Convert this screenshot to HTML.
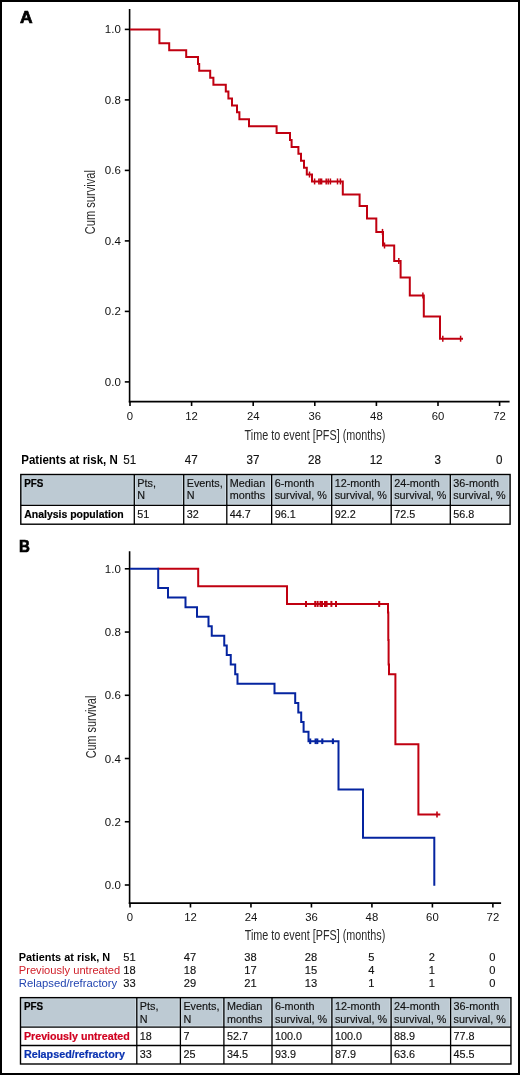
<!DOCTYPE html>
<html><head><meta charset="utf-8"><title>PFS Kaplan-Meier</title>
<style>
html,body{margin:0;padding:0;background:#fff;}
body{width:520px;height:1075px;overflow:hidden;position:relative;}
.frame{position:absolute;left:0;top:0;width:520px;height:1075px;box-sizing:border-box;border:2px solid #000;}
svg{position:absolute;left:0;top:0;will-change:transform;font-family:"Liberation Sans", sans-serif;}
</style></head><body>
<svg width="520" height="1075" viewBox="0 0 520 1075">
<text x="20.1" y="23" font-size="16.5" font-weight="bold" fill="#000" text-anchor="start" textLength="12.6" lengthAdjust="spacingAndGlyphs" stroke="#000" stroke-width="0.7">A</text>
<line x1="129.6" y1="9" x2="129.6" y2="402.4" stroke="#000" stroke-width="1.6"/>
<line x1="128.79999999999998" y1="401.6" x2="509.6" y2="401.6" stroke="#000" stroke-width="1.6"/>
<line x1="124.8" y1="381.9" x2="129.6" y2="381.9" stroke="#000" stroke-width="1.6"/>
<text x="120.8" y="385.9" font-size="11.8" font-weight="normal" fill="#111" text-anchor="end" textLength="16.0" lengthAdjust="spacingAndGlyphs">0.0</text>
<line x1="124.8" y1="311.4" x2="129.6" y2="311.4" stroke="#000" stroke-width="1.6"/>
<text x="120.8" y="315.4" font-size="11.8" font-weight="normal" fill="#111" text-anchor="end" textLength="16.0" lengthAdjust="spacingAndGlyphs">0.2</text>
<line x1="124.8" y1="240.89999999999998" x2="129.6" y2="240.89999999999998" stroke="#000" stroke-width="1.6"/>
<text x="120.8" y="244.9" font-size="11.8" font-weight="normal" fill="#111" text-anchor="end" textLength="16.0" lengthAdjust="spacingAndGlyphs">0.4</text>
<line x1="124.8" y1="170.39999999999998" x2="129.6" y2="170.39999999999998" stroke="#000" stroke-width="1.6"/>
<text x="120.8" y="174.4" font-size="11.8" font-weight="normal" fill="#111" text-anchor="end" textLength="16.0" lengthAdjust="spacingAndGlyphs">0.6</text>
<line x1="124.8" y1="99.89999999999998" x2="129.6" y2="99.89999999999998" stroke="#000" stroke-width="1.6"/>
<text x="120.8" y="103.9" font-size="11.8" font-weight="normal" fill="#111" text-anchor="end" textLength="16.0" lengthAdjust="spacingAndGlyphs">0.8</text>
<line x1="124.8" y1="29.399999999999977" x2="129.6" y2="29.399999999999977" stroke="#000" stroke-width="1.6"/>
<text x="120.8" y="33.4" font-size="11.8" font-weight="normal" fill="#111" text-anchor="end" textLength="16.0" lengthAdjust="spacingAndGlyphs">1.0</text>
<line x1="130.0" y1="401.6" x2="130.0" y2="406" stroke="#000" stroke-width="1.6"/>
<text x="130.0" y="419.6" font-size="11.8" font-weight="normal" fill="#111" text-anchor="middle" textLength="6.3" lengthAdjust="spacingAndGlyphs">0</text>
<line x1="191.5996" y1="401.6" x2="191.5996" y2="406" stroke="#000" stroke-width="1.6"/>
<text x="191.6" y="419.6" font-size="11.8" font-weight="normal" fill="#111" text-anchor="middle" textLength="12.6" lengthAdjust="spacingAndGlyphs">12</text>
<line x1="253.19920000000002" y1="401.6" x2="253.19920000000002" y2="406" stroke="#000" stroke-width="1.6"/>
<text x="253.2" y="419.6" font-size="11.8" font-weight="normal" fill="#111" text-anchor="middle" textLength="12.6" lengthAdjust="spacingAndGlyphs">24</text>
<line x1="314.7988" y1="401.6" x2="314.7988" y2="406" stroke="#000" stroke-width="1.6"/>
<text x="314.8" y="419.6" font-size="11.8" font-weight="normal" fill="#111" text-anchor="middle" textLength="12.6" lengthAdjust="spacingAndGlyphs">36</text>
<line x1="376.39840000000004" y1="401.6" x2="376.39840000000004" y2="406" stroke="#000" stroke-width="1.6"/>
<text x="376.4" y="419.6" font-size="11.8" font-weight="normal" fill="#111" text-anchor="middle" textLength="12.6" lengthAdjust="spacingAndGlyphs">48</text>
<line x1="437.998" y1="401.6" x2="437.998" y2="406" stroke="#000" stroke-width="1.6"/>
<text x="438.0" y="419.6" font-size="11.8" font-weight="normal" fill="#111" text-anchor="middle" textLength="12.6" lengthAdjust="spacingAndGlyphs">60</text>
<line x1="499.5976" y1="401.6" x2="499.5976" y2="406" stroke="#000" stroke-width="1.6"/>
<text x="499.6" y="419.6" font-size="11.8" font-weight="normal" fill="#111" text-anchor="middle" textLength="12.6" lengthAdjust="spacingAndGlyphs">72</text>
<text x="0" y="0" font-size="14" fill="#2a2a2a" textLength="64.3" lengthAdjust="spacingAndGlyphs" transform="translate(95,234.3) rotate(-90)">Cum survival</text>
<text x="244.6" y="439.8" font-size="14" font-weight="normal" fill="#2a2a2a" text-anchor="start" textLength="140.7" lengthAdjust="spacingAndGlyphs">Time to event [PFS] (months)</text>
<path d="M130,29.4 H159.4 V43.22 H169.2 V50.14 H186.2 V57.05 H198 V63.96 H199.2 V70.87 H210.2 V77.78 H213.4 V84.7 H225.8 V91.61 H228.4 V98.52 H232 V105.43 H237 V112.34 H239.4 V119.26 H249 V126.17 H276.6 V133.08 H290 V139.99 H291.6 V146.9 H298.4 V153.82 H301 V160.73 H304 V167.64 H306.8 V174.55 H312 V181.46 H342.8 V194.5 H359.6 V206 H367 V218.6 H376.3 V231.9 H383 V245.5 H394.2 V261 H400.6 V277.5 H409.8 V295.4 H423.8 V316.5 H440 V338.7 H463" fill="none" stroke="#c00010" stroke-width="2.0" stroke-linejoin="miter" stroke-linecap="butt"/>
<line x1="309.5" y1="171.55" x2="309.5" y2="177.55" stroke="#c00010" stroke-width="1.5"/>
<line x1="314.6" y1="178.46" x2="314.6" y2="184.46" stroke="#c00010" stroke-width="1.5"/>
<line x1="318.9" y1="178.46" x2="318.9" y2="184.46" stroke="#c00010" stroke-width="1.5"/>
<line x1="320.3" y1="178.46" x2="320.3" y2="184.46" stroke="#c00010" stroke-width="1.5"/>
<line x1="321.6" y1="178.46" x2="321.6" y2="184.46" stroke="#c00010" stroke-width="1.5"/>
<line x1="326.2" y1="178.46" x2="326.2" y2="184.46" stroke="#c00010" stroke-width="1.5"/>
<line x1="328.2" y1="178.46" x2="328.2" y2="184.46" stroke="#c00010" stroke-width="1.5"/>
<line x1="330.4" y1="178.46" x2="330.4" y2="184.46" stroke="#c00010" stroke-width="1.5"/>
<line x1="337.5" y1="178.46" x2="337.5" y2="184.46" stroke="#c00010" stroke-width="1.5"/>
<line x1="340.4" y1="178.46" x2="340.4" y2="184.46" stroke="#c00010" stroke-width="1.5"/>
<line x1="382.5" y1="228.9" x2="382.5" y2="234.9" stroke="#c00010" stroke-width="1.5"/>
<line x1="384.5" y1="242.5" x2="384.5" y2="248.5" stroke="#c00010" stroke-width="1.5"/>
<line x1="398.8" y1="258.0" x2="398.8" y2="264.0" stroke="#c00010" stroke-width="1.5"/>
<line x1="422.9" y1="292.4" x2="422.9" y2="298.4" stroke="#c00010" stroke-width="1.5"/>
<line x1="442.8" y1="335.7" x2="442.8" y2="341.7" stroke="#c00010" stroke-width="1.5"/>
<line x1="460.6" y1="335.7" x2="460.6" y2="341.7" stroke="#c00010" stroke-width="1.5"/>
<text x="21.3" y="463.6" font-size="12" font-weight="bold" fill="#000" text-anchor="start" textLength="96.5" lengthAdjust="spacingAndGlyphs">Patients at risk, N</text>
<text x="129.7" y="463.6" font-size="12" font-weight="normal" fill="#111" text-anchor="middle" textLength="12.94" lengthAdjust="spacingAndGlyphs" stroke="#111" stroke-width="0.15">51</text>
<text x="191.3" y="463.6" font-size="12" font-weight="normal" fill="#111" text-anchor="middle" textLength="12.94" lengthAdjust="spacingAndGlyphs" stroke="#111" stroke-width="0.15">47</text>
<text x="252.9" y="463.6" font-size="12" font-weight="normal" fill="#111" text-anchor="middle" textLength="12.94" lengthAdjust="spacingAndGlyphs" stroke="#111" stroke-width="0.15">37</text>
<text x="314.5" y="463.6" font-size="12" font-weight="normal" fill="#111" text-anchor="middle" textLength="12.94" lengthAdjust="spacingAndGlyphs" stroke="#111" stroke-width="0.15">28</text>
<text x="376.1" y="463.6" font-size="12" font-weight="normal" fill="#111" text-anchor="middle" textLength="12.94" lengthAdjust="spacingAndGlyphs" stroke="#111" stroke-width="0.15">12</text>
<text x="437.7" y="463.6" font-size="12" font-weight="normal" fill="#111" text-anchor="middle" textLength="6.47" lengthAdjust="spacingAndGlyphs" stroke="#111" stroke-width="0.15">3</text>
<text x="499.3" y="463.6" font-size="12" font-weight="normal" fill="#111" text-anchor="middle" textLength="6.47" lengthAdjust="spacingAndGlyphs" stroke="#111" stroke-width="0.15">0</text>
<rect x="20.8" y="474.5" width="489.3" height="30.94999999999999" fill="#bdcad3"/>
<rect x="21.95" y="475.65" width="111.20000000000002" height="28.649999999999988" fill="none" stroke="#d2dde4" stroke-width="1"/>
<rect x="135.45000000000002" y="475.65" width="47.09999999999998" height="28.649999999999988" fill="none" stroke="#d2dde4" stroke-width="1"/>
<rect x="184.85" y="475.65" width="40.800000000000026" height="28.649999999999988" fill="none" stroke="#d2dde4" stroke-width="1"/>
<rect x="227.95000000000002" y="475.65" width="42.54999999999997" height="28.649999999999988" fill="none" stroke="#d2dde4" stroke-width="1"/>
<rect x="272.79999999999995" y="475.65" width="57.750000000000014" height="28.649999999999988" fill="none" stroke="#d2dde4" stroke-width="1"/>
<rect x="332.84999999999997" y="475.65" width="57.2" height="28.649999999999988" fill="none" stroke="#d2dde4" stroke-width="1"/>
<rect x="392.34999999999997" y="475.65" width="56.800000000000026" height="28.649999999999988" fill="none" stroke="#d2dde4" stroke-width="1"/>
<rect x="451.45" y="475.65" width="57.500000000000014" height="28.649999999999988" fill="none" stroke="#d2dde4" stroke-width="1"/>
<rect x="20.8" y="474.5" width="489.3" height="49.700000000000045" fill="none" stroke="#000" stroke-width="1.4"/>
<line x1="134.3" y1="474.5" x2="134.3" y2="524.2" stroke="#000" stroke-width="1.3"/>
<line x1="183.7" y1="474.5" x2="183.7" y2="524.2" stroke="#000" stroke-width="1.3"/>
<line x1="226.8" y1="474.5" x2="226.8" y2="524.2" stroke="#000" stroke-width="1.3"/>
<line x1="271.65" y1="474.5" x2="271.65" y2="524.2" stroke="#000" stroke-width="1.3"/>
<line x1="331.7" y1="474.5" x2="331.7" y2="524.2" stroke="#000" stroke-width="1.3"/>
<line x1="391.2" y1="474.5" x2="391.2" y2="524.2" stroke="#000" stroke-width="1.3"/>
<line x1="450.3" y1="474.5" x2="450.3" y2="524.2" stroke="#000" stroke-width="1.3"/>
<line x1="20.8" y1="505.45" x2="510.1" y2="505.45" stroke="#000" stroke-width="1.3"/>
<text x="24.2" y="486.7" font-size="10.8" font-weight="bold" fill="#000" text-anchor="start" textLength="19.2" lengthAdjust="spacingAndGlyphs" stroke="#000" stroke-width="0.2">PFS</text>
<text x="137.3" y="486.7" font-size="10.8" font-weight="normal" fill="#111" text-anchor="start" stroke="#111" stroke-width="0.15">Pts,</text>
<text x="137.3" y="499.3" font-size="10.8" font-weight="normal" fill="#111" text-anchor="start" stroke="#111" stroke-width="0.15">N</text>
<text x="186.7" y="486.7" font-size="10.8" font-weight="normal" fill="#111" text-anchor="start" stroke="#111" stroke-width="0.15">Events,</text>
<text x="186.7" y="499.3" font-size="10.8" font-weight="normal" fill="#111" text-anchor="start" stroke="#111" stroke-width="0.15">N</text>
<text x="229.8" y="486.7" font-size="10.8" font-weight="normal" fill="#111" text-anchor="start" stroke="#111" stroke-width="0.15">Median</text>
<text x="229.8" y="499.3" font-size="10.8" font-weight="normal" fill="#111" text-anchor="start" stroke="#111" stroke-width="0.15">months</text>
<text x="274.65" y="486.7" font-size="10.8" font-weight="normal" fill="#111" text-anchor="start" stroke="#111" stroke-width="0.15">6-month</text>
<text x="274.65" y="499.3" font-size="10.8" font-weight="normal" fill="#111" text-anchor="start" stroke="#111" stroke-width="0.15">survival, %</text>
<text x="334.7" y="486.7" font-size="10.8" font-weight="normal" fill="#111" text-anchor="start" stroke="#111" stroke-width="0.15">12-month</text>
<text x="334.7" y="499.3" font-size="10.8" font-weight="normal" fill="#111" text-anchor="start" stroke="#111" stroke-width="0.15">survival, %</text>
<text x="394.2" y="486.7" font-size="10.8" font-weight="normal" fill="#111" text-anchor="start" stroke="#111" stroke-width="0.15">24-month</text>
<text x="394.2" y="499.3" font-size="10.8" font-weight="normal" fill="#111" text-anchor="start" stroke="#111" stroke-width="0.15">survival, %</text>
<text x="453.3" y="486.7" font-size="10.8" font-weight="normal" fill="#111" text-anchor="start" stroke="#111" stroke-width="0.15">36-month</text>
<text x="453.3" y="499.3" font-size="10.8" font-weight="normal" fill="#111" text-anchor="start" stroke="#111" stroke-width="0.15">survival, %</text>
<text x="24.2" y="517.7" font-size="10.8" font-weight="bold" fill="#000" text-anchor="start" textLength="99.5" lengthAdjust="spacingAndGlyphs" stroke="#000" stroke-width="0.2">Analysis population</text>
<text x="137.3" y="517.7" font-size="10.8" font-weight="normal" fill="#111" text-anchor="start" stroke="#111" stroke-width="0.15">51</text>
<text x="186.7" y="517.7" font-size="10.8" font-weight="normal" fill="#111" text-anchor="start" stroke="#111" stroke-width="0.15">32</text>
<text x="229.8" y="517.7" font-size="10.8" font-weight="normal" fill="#111" text-anchor="start" stroke="#111" stroke-width="0.15">44.7</text>
<text x="274.65" y="517.7" font-size="10.8" font-weight="normal" fill="#111" text-anchor="start" stroke="#111" stroke-width="0.15">96.1</text>
<text x="334.7" y="517.7" font-size="10.8" font-weight="normal" fill="#111" text-anchor="start" stroke="#111" stroke-width="0.15">92.2</text>
<text x="394.2" y="517.7" font-size="10.8" font-weight="normal" fill="#111" text-anchor="start" stroke="#111" stroke-width="0.15">72.5</text>
<text x="453.3" y="517.7" font-size="10.8" font-weight="normal" fill="#111" text-anchor="start" stroke="#111" stroke-width="0.15">56.8</text>
<text x="18.9" y="552.2" font-size="16.5" font-weight="bold" fill="#000" text-anchor="start" textLength="10.9" lengthAdjust="spacingAndGlyphs" stroke="#000" stroke-width="0.7">B</text>
<line x1="129.6" y1="551.2" x2="129.6" y2="903.9" stroke="#000" stroke-width="1.6"/>
<line x1="128.79999999999998" y1="903.1" x2="501.1" y2="903.1" stroke="#000" stroke-width="1.6"/>
<line x1="124.8" y1="885.0" x2="129.6" y2="885.0" stroke="#000" stroke-width="1.6"/>
<text x="120.8" y="889.0" font-size="11.8" font-weight="normal" fill="#111" text-anchor="end" textLength="16.0" lengthAdjust="spacingAndGlyphs">0.0</text>
<line x1="124.8" y1="821.76" x2="129.6" y2="821.76" stroke="#000" stroke-width="1.6"/>
<text x="120.8" y="825.76" font-size="11.8" font-weight="normal" fill="#111" text-anchor="end" textLength="16.0" lengthAdjust="spacingAndGlyphs">0.2</text>
<line x1="124.8" y1="758.52" x2="129.6" y2="758.52" stroke="#000" stroke-width="1.6"/>
<text x="120.8" y="762.52" font-size="11.8" font-weight="normal" fill="#111" text-anchor="end" textLength="16.0" lengthAdjust="spacingAndGlyphs">0.4</text>
<line x1="124.8" y1="695.28" x2="129.6" y2="695.28" stroke="#000" stroke-width="1.6"/>
<text x="120.8" y="699.28" font-size="11.8" font-weight="normal" fill="#111" text-anchor="end" textLength="16.0" lengthAdjust="spacingAndGlyphs">0.6</text>
<line x1="124.8" y1="632.04" x2="129.6" y2="632.04" stroke="#000" stroke-width="1.6"/>
<text x="120.8" y="636.04" font-size="11.8" font-weight="normal" fill="#111" text-anchor="end" textLength="16.0" lengthAdjust="spacingAndGlyphs">0.8</text>
<line x1="124.8" y1="568.8" x2="129.6" y2="568.8" stroke="#000" stroke-width="1.6"/>
<text x="120.8" y="572.8" font-size="11.8" font-weight="normal" fill="#111" text-anchor="end" textLength="16.0" lengthAdjust="spacingAndGlyphs">1.0</text>
<line x1="130.0" y1="903.1" x2="130.0" y2="907.5" stroke="#000" stroke-width="1.6"/>
<text x="130.0" y="920.5" font-size="11.8" font-weight="normal" fill="#111" text-anchor="middle" textLength="6.3" lengthAdjust="spacingAndGlyphs">0</text>
<line x1="190.48000000000002" y1="903.1" x2="190.48000000000002" y2="907.5" stroke="#000" stroke-width="1.6"/>
<text x="190.48" y="920.5" font-size="11.8" font-weight="normal" fill="#111" text-anchor="middle" textLength="12.6" lengthAdjust="spacingAndGlyphs">12</text>
<line x1="250.96" y1="903.1" x2="250.96" y2="907.5" stroke="#000" stroke-width="1.6"/>
<text x="250.96" y="920.5" font-size="11.8" font-weight="normal" fill="#111" text-anchor="middle" textLength="12.6" lengthAdjust="spacingAndGlyphs">24</text>
<line x1="311.44" y1="903.1" x2="311.44" y2="907.5" stroke="#000" stroke-width="1.6"/>
<text x="311.44" y="920.5" font-size="11.8" font-weight="normal" fill="#111" text-anchor="middle" textLength="12.6" lengthAdjust="spacingAndGlyphs">36</text>
<line x1="371.92" y1="903.1" x2="371.92" y2="907.5" stroke="#000" stroke-width="1.6"/>
<text x="371.92" y="920.5" font-size="11.8" font-weight="normal" fill="#111" text-anchor="middle" textLength="12.6" lengthAdjust="spacingAndGlyphs">48</text>
<line x1="432.4" y1="903.1" x2="432.4" y2="907.5" stroke="#000" stroke-width="1.6"/>
<text x="432.4" y="920.5" font-size="11.8" font-weight="normal" fill="#111" text-anchor="middle" textLength="12.6" lengthAdjust="spacingAndGlyphs">60</text>
<line x1="492.88" y1="903.1" x2="492.88" y2="907.5" stroke="#000" stroke-width="1.6"/>
<text x="492.88" y="920.5" font-size="11.8" font-weight="normal" fill="#111" text-anchor="middle" textLength="12.6" lengthAdjust="spacingAndGlyphs">72</text>
<text x="0" y="0" font-size="14" fill="#2a2a2a" textLength="62.6" lengthAdjust="spacingAndGlyphs" transform="translate(96,758.3) rotate(-90)">Cum survival</text>
<text x="244.7" y="940.3" font-size="14" font-weight="normal" fill="#2a2a2a" text-anchor="start" textLength="140.6" lengthAdjust="spacingAndGlyphs">Time to event [PFS] (months)</text>
<path d="M157.5,568.8 H198.2 V586.37 H287 V603.94 H388 V612.6 H388.3 V640 H388.6 V664.6 H389 V674.3 H395.4 V744.3 H418.4 V814.6 H440.3" fill="none" stroke="#c00010" stroke-width="2.0" stroke-linejoin="miter" stroke-linecap="butt"/>
<line x1="306" y1="600.94" x2="306" y2="606.94" stroke="#c00010" stroke-width="2.0"/>
<line x1="315.2" y1="600.94" x2="315.2" y2="606.94" stroke="#c00010" stroke-width="2.0"/>
<line x1="317.6" y1="600.94" x2="317.6" y2="606.94" stroke="#c00010" stroke-width="2.0"/>
<line x1="320.5" y1="600.94" x2="320.5" y2="606.94" stroke="#c00010" stroke-width="2.0"/>
<line x1="322.0" y1="600.94" x2="322.0" y2="606.94" stroke="#c00010" stroke-width="2.0"/>
<line x1="325.0" y1="600.94" x2="325.0" y2="606.94" stroke="#c00010" stroke-width="2.0"/>
<line x1="326.6" y1="600.94" x2="326.6" y2="606.94" stroke="#c00010" stroke-width="2.0"/>
<line x1="331.4" y1="600.94" x2="331.4" y2="606.94" stroke="#c00010" stroke-width="2.0"/>
<line x1="336.0" y1="600.94" x2="336.0" y2="606.94" stroke="#c00010" stroke-width="2.0"/>
<line x1="379.2" y1="600.94" x2="379.2" y2="606.94" stroke="#c00010" stroke-width="2.0"/>
<line x1="437" y1="811.6" x2="437" y2="817.6" stroke="#c00010" stroke-width="1.6"/>
<path d="M130,568.8 H158.2 V587.96 H168 V597.55 H185.5 V607.13 H197 V616.71 H208.5 V626.29 H211.75 V635.87 H224.25 V645.46 H226.75 V655.04 H230.75 V664.62 H235.2 V674.2 H237.5 V683.78 H274.5 V693.37 H295.2 V702.95 H298.3 V712.53 H301.2 V722.11 H303.6 V731.69 H308.5 V741.28 H338.5 V789.5 H363 V837.8 H434.3 V885.8" fill="none" stroke="#0524a0" stroke-width="2.0" stroke-linejoin="miter" stroke-linecap="butt"/>
<line x1="310.2" y1="738.48" x2="310.2" y2="744.0799999999999" stroke="#0524a0" stroke-width="2.1"/>
<line x1="315.6" y1="738.48" x2="315.6" y2="744.0799999999999" stroke="#0524a0" stroke-width="2.1"/>
<line x1="317.3" y1="738.48" x2="317.3" y2="744.0799999999999" stroke="#0524a0" stroke-width="2.1"/>
<line x1="322.3" y1="738.48" x2="322.3" y2="744.0799999999999" stroke="#0524a0" stroke-width="2.1"/>
<line x1="332.9" y1="738.48" x2="332.9" y2="744.0799999999999" stroke="#0524a0" stroke-width="2.1"/>
<text x="18.75" y="960.75" font-size="11.5" font-weight="bold" fill="#000" text-anchor="start" textLength="91.5" lengthAdjust="spacingAndGlyphs">Patients at risk, N</text>
<text x="18.75" y="973.75" font-size="11.5" font-weight="normal" fill="#d0202a" text-anchor="start" textLength="101.5" lengthAdjust="spacingAndGlyphs">Previously untreated</text>
<text x="18.75" y="986.75" font-size="11.5" font-weight="normal" fill="#2244b0" text-anchor="start" textLength="98.5" lengthAdjust="spacingAndGlyphs">Relapsed/refractory</text>
<text x="129.5" y="960.75" font-size="11.5" font-weight="normal" fill="#111" text-anchor="middle" textLength="12.4" lengthAdjust="spacingAndGlyphs" stroke="#111" stroke-width="0.15">51</text>
<text x="189.98" y="960.75" font-size="11.5" font-weight="normal" fill="#111" text-anchor="middle" textLength="12.4" lengthAdjust="spacingAndGlyphs" stroke="#111" stroke-width="0.15">47</text>
<text x="250.46" y="960.75" font-size="11.5" font-weight="normal" fill="#111" text-anchor="middle" textLength="12.4" lengthAdjust="spacingAndGlyphs" stroke="#111" stroke-width="0.15">38</text>
<text x="310.94" y="960.75" font-size="11.5" font-weight="normal" fill="#111" text-anchor="middle" textLength="12.4" lengthAdjust="spacingAndGlyphs" stroke="#111" stroke-width="0.15">28</text>
<text x="371.42" y="960.75" font-size="11.5" font-weight="normal" fill="#111" text-anchor="middle" textLength="6.2" lengthAdjust="spacingAndGlyphs" stroke="#111" stroke-width="0.15">5</text>
<text x="431.9" y="960.75" font-size="11.5" font-weight="normal" fill="#111" text-anchor="middle" textLength="6.2" lengthAdjust="spacingAndGlyphs" stroke="#111" stroke-width="0.15">2</text>
<text x="492.38" y="960.75" font-size="11.5" font-weight="normal" fill="#111" text-anchor="middle" textLength="6.2" lengthAdjust="spacingAndGlyphs" stroke="#111" stroke-width="0.15">0</text>
<text x="129.5" y="973.75" font-size="11.5" font-weight="normal" fill="#111" text-anchor="middle" textLength="12.4" lengthAdjust="spacingAndGlyphs" stroke="#111" stroke-width="0.15">18</text>
<text x="189.98" y="973.75" font-size="11.5" font-weight="normal" fill="#111" text-anchor="middle" textLength="12.4" lengthAdjust="spacingAndGlyphs" stroke="#111" stroke-width="0.15">18</text>
<text x="250.46" y="973.75" font-size="11.5" font-weight="normal" fill="#111" text-anchor="middle" textLength="12.4" lengthAdjust="spacingAndGlyphs" stroke="#111" stroke-width="0.15">17</text>
<text x="310.94" y="973.75" font-size="11.5" font-weight="normal" fill="#111" text-anchor="middle" textLength="12.4" lengthAdjust="spacingAndGlyphs" stroke="#111" stroke-width="0.15">15</text>
<text x="371.42" y="973.75" font-size="11.5" font-weight="normal" fill="#111" text-anchor="middle" textLength="6.2" lengthAdjust="spacingAndGlyphs" stroke="#111" stroke-width="0.15">4</text>
<text x="431.9" y="973.75" font-size="11.5" font-weight="normal" fill="#111" text-anchor="middle" textLength="6.2" lengthAdjust="spacingAndGlyphs" stroke="#111" stroke-width="0.15">1</text>
<text x="492.38" y="973.75" font-size="11.5" font-weight="normal" fill="#111" text-anchor="middle" textLength="6.2" lengthAdjust="spacingAndGlyphs" stroke="#111" stroke-width="0.15">0</text>
<text x="129.5" y="986.75" font-size="11.5" font-weight="normal" fill="#111" text-anchor="middle" textLength="12.4" lengthAdjust="spacingAndGlyphs" stroke="#111" stroke-width="0.15">33</text>
<text x="189.98" y="986.75" font-size="11.5" font-weight="normal" fill="#111" text-anchor="middle" textLength="12.4" lengthAdjust="spacingAndGlyphs" stroke="#111" stroke-width="0.15">29</text>
<text x="250.46" y="986.75" font-size="11.5" font-weight="normal" fill="#111" text-anchor="middle" textLength="12.4" lengthAdjust="spacingAndGlyphs" stroke="#111" stroke-width="0.15">21</text>
<text x="310.94" y="986.75" font-size="11.5" font-weight="normal" fill="#111" text-anchor="middle" textLength="12.4" lengthAdjust="spacingAndGlyphs" stroke="#111" stroke-width="0.15">13</text>
<text x="371.42" y="986.75" font-size="11.5" font-weight="normal" fill="#111" text-anchor="middle" textLength="6.2" lengthAdjust="spacingAndGlyphs" stroke="#111" stroke-width="0.15">1</text>
<text x="431.9" y="986.75" font-size="11.5" font-weight="normal" fill="#111" text-anchor="middle" textLength="6.2" lengthAdjust="spacingAndGlyphs" stroke="#111" stroke-width="0.15">1</text>
<text x="492.38" y="986.75" font-size="11.5" font-weight="normal" fill="#111" text-anchor="middle" textLength="6.2" lengthAdjust="spacingAndGlyphs" stroke="#111" stroke-width="0.15">0</text>
<rect x="20.5" y="997.65" width="490.45" height="29.449999999999932" fill="#bdcad3"/>
<rect x="21.65" y="998.8" width="114.00000000000001" height="27.14999999999993" fill="none" stroke="#d2dde4" stroke-width="1"/>
<rect x="137.95000000000002" y="998.8" width="41.3" height="27.14999999999993" fill="none" stroke="#d2dde4" stroke-width="1"/>
<rect x="181.55" y="998.8" width="41.2" height="27.14999999999993" fill="none" stroke="#d2dde4" stroke-width="1"/>
<rect x="225.05" y="998.8" width="45.8" height="27.14999999999993" fill="none" stroke="#d2dde4" stroke-width="1"/>
<rect x="273.15" y="998.8" width="57.59999999999998" height="27.14999999999993" fill="none" stroke="#d2dde4" stroke-width="1"/>
<rect x="333.04999999999995" y="998.8" width="56.90000000000005" height="27.14999999999993" fill="none" stroke="#d2dde4" stroke-width="1"/>
<rect x="392.25" y="998.8" width="57.2" height="27.14999999999993" fill="none" stroke="#d2dde4" stroke-width="1"/>
<rect x="451.75" y="998.8" width="58.04999999999997" height="27.14999999999993" fill="none" stroke="#d2dde4" stroke-width="1"/>
<rect x="20.5" y="997.65" width="490.45" height="66.35000000000002" fill="none" stroke="#000" stroke-width="1.4"/>
<line x1="136.8" y1="997.65" x2="136.8" y2="1064.0" stroke="#000" stroke-width="1.3"/>
<line x1="180.4" y1="997.65" x2="180.4" y2="1064.0" stroke="#000" stroke-width="1.3"/>
<line x1="223.9" y1="997.65" x2="223.9" y2="1064.0" stroke="#000" stroke-width="1.3"/>
<line x1="272.0" y1="997.65" x2="272.0" y2="1064.0" stroke="#000" stroke-width="1.3"/>
<line x1="331.9" y1="997.65" x2="331.9" y2="1064.0" stroke="#000" stroke-width="1.3"/>
<line x1="391.1" y1="997.65" x2="391.1" y2="1064.0" stroke="#000" stroke-width="1.3"/>
<line x1="450.6" y1="997.65" x2="450.6" y2="1064.0" stroke="#000" stroke-width="1.3"/>
<line x1="20.5" y1="1027.1" x2="510.95" y2="1027.1" stroke="#000" stroke-width="1.3"/>
<line x1="20.5" y1="1045.5" x2="510.95" y2="1045.5" stroke="#000" stroke-width="1.3"/>
<text x="23.9" y="1009.7" font-size="10.8" font-weight="bold" fill="#000" text-anchor="start" textLength="19.2" lengthAdjust="spacingAndGlyphs" stroke="#000" stroke-width="0.2">PFS</text>
<text x="139.8" y="1009.7" font-size="10.8" font-weight="normal" fill="#111" text-anchor="start" stroke="#111" stroke-width="0.15">Pts,</text>
<text x="139.8" y="1022.7" font-size="10.8" font-weight="normal" fill="#111" text-anchor="start" stroke="#111" stroke-width="0.15">N</text>
<text x="183.4" y="1009.7" font-size="10.8" font-weight="normal" fill="#111" text-anchor="start" stroke="#111" stroke-width="0.15">Events,</text>
<text x="183.4" y="1022.7" font-size="10.8" font-weight="normal" fill="#111" text-anchor="start" stroke="#111" stroke-width="0.15">N</text>
<text x="226.9" y="1009.7" font-size="10.8" font-weight="normal" fill="#111" text-anchor="start" stroke="#111" stroke-width="0.15">Median</text>
<text x="226.9" y="1022.7" font-size="10.8" font-weight="normal" fill="#111" text-anchor="start" stroke="#111" stroke-width="0.15">months</text>
<text x="275.0" y="1009.7" font-size="10.8" font-weight="normal" fill="#111" text-anchor="start" stroke="#111" stroke-width="0.15">6-month</text>
<text x="275.0" y="1022.7" font-size="10.8" font-weight="normal" fill="#111" text-anchor="start" stroke="#111" stroke-width="0.15">survival, %</text>
<text x="334.9" y="1009.7" font-size="10.8" font-weight="normal" fill="#111" text-anchor="start" stroke="#111" stroke-width="0.15">12-month</text>
<text x="334.9" y="1022.7" font-size="10.8" font-weight="normal" fill="#111" text-anchor="start" stroke="#111" stroke-width="0.15">survival, %</text>
<text x="394.1" y="1009.7" font-size="10.8" font-weight="normal" fill="#111" text-anchor="start" stroke="#111" stroke-width="0.15">24-month</text>
<text x="394.1" y="1022.7" font-size="10.8" font-weight="normal" fill="#111" text-anchor="start" stroke="#111" stroke-width="0.15">survival, %</text>
<text x="453.6" y="1009.7" font-size="10.8" font-weight="normal" fill="#111" text-anchor="start" stroke="#111" stroke-width="0.15">36-month</text>
<text x="453.6" y="1022.7" font-size="10.8" font-weight="normal" fill="#111" text-anchor="start" stroke="#111" stroke-width="0.15">survival, %</text>
<text x="23.9" y="1039.7" font-size="10.8" font-weight="bold" fill="#d00020" text-anchor="start" textLength="105.8" lengthAdjust="spacingAndGlyphs" stroke="#d00020" stroke-width="0.2">Previously untreated</text>
<text x="23.9" y="1057.9" font-size="10.8" font-weight="bold" fill="#0a32b0" text-anchor="start" textLength="101" lengthAdjust="spacingAndGlyphs" stroke="#0a32b0" stroke-width="0.2">Relapsed/refractory</text>
<text x="139.8" y="1039.7" font-size="10.8" font-weight="normal" fill="#111" text-anchor="start" stroke="#111" stroke-width="0.15">18</text>
<text x="183.4" y="1039.7" font-size="10.8" font-weight="normal" fill="#111" text-anchor="start" stroke="#111" stroke-width="0.15">7</text>
<text x="226.9" y="1039.7" font-size="10.8" font-weight="normal" fill="#111" text-anchor="start" stroke="#111" stroke-width="0.15">52.7</text>
<text x="275.0" y="1039.7" font-size="10.8" font-weight="normal" fill="#111" text-anchor="start" stroke="#111" stroke-width="0.15">100.0</text>
<text x="334.9" y="1039.7" font-size="10.8" font-weight="normal" fill="#111" text-anchor="start" stroke="#111" stroke-width="0.15">100.0</text>
<text x="394.1" y="1039.7" font-size="10.8" font-weight="normal" fill="#111" text-anchor="start" stroke="#111" stroke-width="0.15">88.9</text>
<text x="453.6" y="1039.7" font-size="10.8" font-weight="normal" fill="#111" text-anchor="start" stroke="#111" stroke-width="0.15">77.8</text>
<text x="139.8" y="1057.9" font-size="10.8" font-weight="normal" fill="#111" text-anchor="start" stroke="#111" stroke-width="0.15">33</text>
<text x="183.4" y="1057.9" font-size="10.8" font-weight="normal" fill="#111" text-anchor="start" stroke="#111" stroke-width="0.15">25</text>
<text x="226.9" y="1057.9" font-size="10.8" font-weight="normal" fill="#111" text-anchor="start" stroke="#111" stroke-width="0.15">34.5</text>
<text x="275.0" y="1057.9" font-size="10.8" font-weight="normal" fill="#111" text-anchor="start" stroke="#111" stroke-width="0.15">93.9</text>
<text x="334.9" y="1057.9" font-size="10.8" font-weight="normal" fill="#111" text-anchor="start" stroke="#111" stroke-width="0.15">87.9</text>
<text x="394.1" y="1057.9" font-size="10.8" font-weight="normal" fill="#111" text-anchor="start" stroke="#111" stroke-width="0.15">63.6</text>
<text x="453.6" y="1057.9" font-size="10.8" font-weight="normal" fill="#111" text-anchor="start" stroke="#111" stroke-width="0.15">45.5</text>
</svg>
<div class="frame"></div>
</body></html>
